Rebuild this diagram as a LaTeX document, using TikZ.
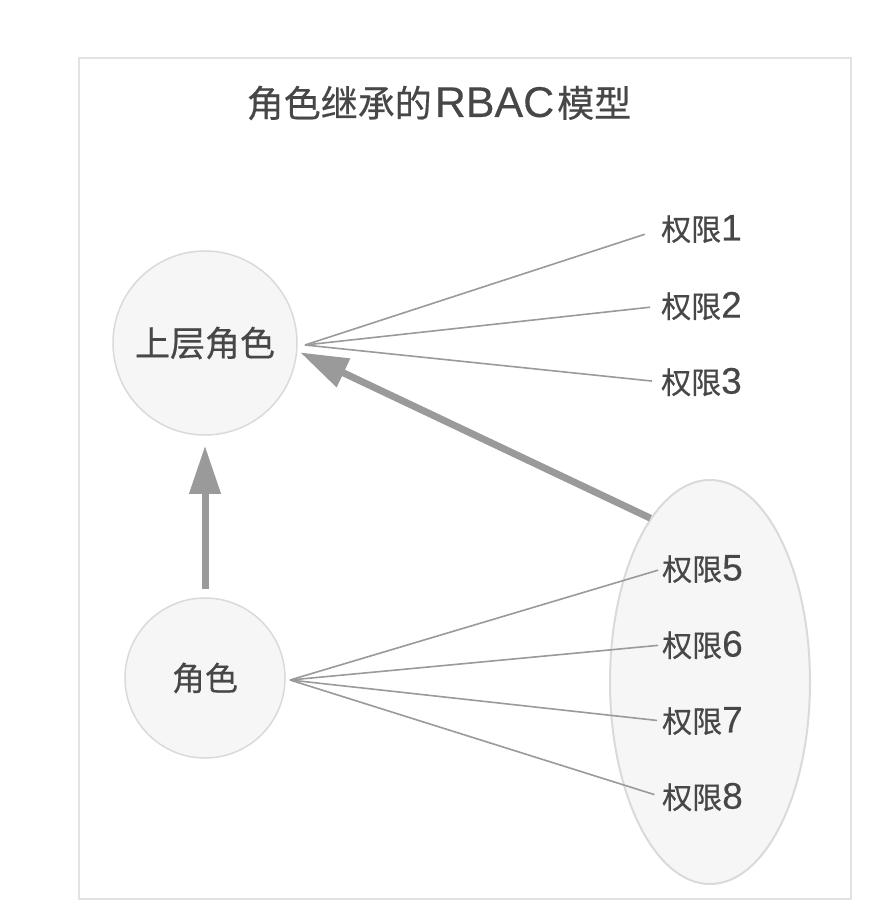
\documentclass[tikz,border=0pt]{standalone}
\usepackage{fontspec}
\setmainfont{Liberation Sans}
\newfontfamily\cjk{Noto Sans CJK SC}[FakeBold=0.4]
\newfontfamily\lat{Liberation Sans}[FakeBold=0.3]
\usetikzlibrary{shapes.geometric,arrows.meta}
\definecolor{linegray}{HTML}{9A9A9A}
\definecolor{txtgray}{HTML}{474747}
\definecolor{fillgray}{HTML}{F6F6F6}
\definecolor{bordgray}{HTML}{DADADA}
\definecolor{framegray}{HTML}{E2E2E2}
\newcommand{\permlabel}[1]{{\cjk 权限}{\lat\fontsize{37}{37}\selectfont #1}}
\tikzset{
  rolecircle/.style={circle,draw=bordgray,line width=1.5pt,fill=fillgray,text=txtgray,inner sep=0pt},
  perm/.style={anchor=west,inner sep=0pt,text=txtgray,font=\fontsize{30}{30}\selectfont},
  thin line/.style={draw=linegray,line width=1.6pt},
  bigarrow/.style={draw=linegray,line width=7pt,-{Triangle[length=48pt,width=30pt]}},
}
\begin{document}
\begin{tikzpicture}[x=1pt,y=-1pt]
\useasboundingbox (0,0) rectangle (894,924);
\fill[white] (0,0) rectangle (894,924);
\draw[framegray,line width=1.5pt] (79,58) rectangle (851,899);
\node[text=txtgray,font=\fontsize{37}{37}\selectfont] (title) at (439,103) {{\cjk 角色继承的}\kern3pt{\lat\fontsize{43}{43}\selectfont RBAC}\kern3pt{\cjk 模型}};
% ellipse group
\node[ellipse,draw=bordgray,line width=2pt,fill=fillgray,minimum width=200pt,minimum height=404pt,inner sep=0pt] (pe) at (710,682) {};
% circles
\node[rolecircle,minimum size=184pt,font=\fontsize{35}{35}\selectfont] (up) at (205,343) {\cjk 上层角色};
\node[rolecircle,minimum size=160pt,font=\fontsize{33}{33}\selectfont] (low) at (205,678) {\cjk 角色};
% permission labels
\node[perm] (p1) at (661,229) {\permlabel{1}};
\node[perm] (p2) at (661,306) {\permlabel{2}};
\node[perm] (p3) at (661,382) {\permlabel{3}};
\node[perm] (p5) at (662,569) {\permlabel{5}};
\node[perm] (p6) at (662,645) {\permlabel{6}};
\node[perm] (p7) at (662,721) {\permlabel{7}};
\node[perm] (p8) at (662,797) {\permlabel{8}};
% fan origins
\coordinate (fu) at (305,345);
\coordinate (fl) at (290,680);
\draw[thin line,shorten >=17pt] (fu) -- (p1.west);
\draw[thin line,shorten >=11pt] (fu) -- (p2.west);
\draw[thin line,shorten >=9pt] (fu) -- (p3.west);
\draw[thin line,shorten >=4pt] (fl) -- (p5.west);
\draw[thin line,shorten >=4pt] (fl) -- (p6.west);
\draw[thin line,shorten >=5pt] (fl) -- (p7.west);
\draw[thin line,shorten >=8pt] (fl) -- (p8.west);
% inheritance arrows
\draw[bigarrow,shorten <=8pt,shorten >=10pt] (low) -- (up);
\draw[bigarrow,shorten >=3pt] (pe.110) -- (up.-5);
\end{tikzpicture}
\end{document}
